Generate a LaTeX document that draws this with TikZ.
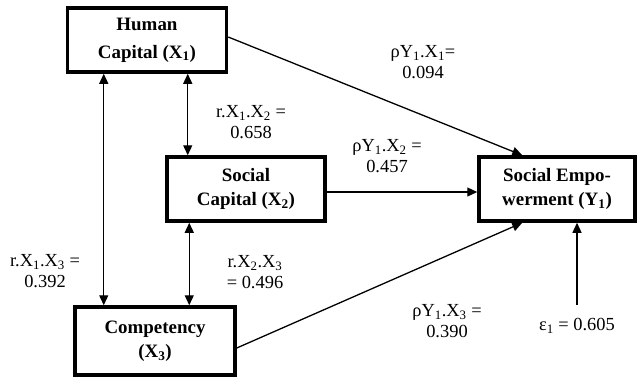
\documentclass[tikz,border=0pt]{standalone}
\usepackage{fontspec}
\setmainfont{Liberation Serif}
\usetikzlibrary{arrows.meta}

\begin{document}
\begin{tikzpicture}[x=1bp, y=-1bp,
    box/.style={draw, line width=3.5bp, minimum width=158bp, minimum height=64bp, inner sep=0pt, align=center, font=\bfseries\fontsize{19}{24}\selectfont},
    lbl/.style={align=center, inner sep=0pt, font=\fontsize{18.5}{20.5}\selectfont},
    link/.style={line width=1.3bp, -{Triangle[length=10bp,width=9bp]}},
    corr/.style={line width=1.3bp, {Triangle[length=10bp,width=9bp]}-{Triangle[length=10bp,width=9bp]}}]
        \useasboundingbox (0,0) rectangle (637,378);
        \coordinate (H) at (147,40);
        \coordinate (S) at (246,189);
        \coordinate (C) at (155,341);
        \coordinate (E) at (557,189);
        \coordinate (err) at (577,305);
        \node[box, minimum width=159bp, font=\bfseries\fontsize{19}{28}\selectfont] (hc) at (H) {Human\\Capital (X\textsubscript{1})};
        \node[box] (sc) at (S) {Social\\Capital (X\textsubscript{2})};
        \node[box, minimum width=160bp, minimum height=68bp] (cp) at (C) {Competency\\(X\textsubscript{3})};
        \node[box, minimum width=156bp] (se) at (E) {Social Empo-\\werment (Y\textsubscript{1})};
        \draw[corr] ([xshift=38bp]hc.south west) -- ([xshift=38bp]hc.south west |- cp.north);
        \draw[corr] ([xshift=122bp]hc.south west) -- ([xshift=122bp]hc.south west |- sc.north);
        \draw[corr] ([xshift=24bp]sc.south west) -- ([xshift=24bp]sc.south west |- cp.north);
        \draw[link] ([yshift=3bp]hc.east) -- ([xshift=45bp]se.north west);
        \draw[link] ([yshift=-3bp]sc.east) -- ([yshift=-3bp]se.west);
        \draw[link] ([yshift=-7bp]cp.east) -- ([xshift=45bp]se.south west);
        \draw[link] (err) -- (err |- se.south);
        \node[lbl] (l1) at (423,62) {ρY\textsubscript{1}.X\textsubscript{1}=\\0.094};
        \node[lbl] (l2) at (251,122) {r.X\textsubscript{1}.X\textsubscript{2} =\\0.658};
        \node[lbl] (l3) at (387,156) {ρY\textsubscript{1}.X\textsubscript{2} =\\0.457};
        \node[lbl] (l4) at (45,271) {r.X\textsubscript{1}.X\textsubscript{3} =\\0.392};
        \node[lbl] (l5) at (255,272) {r.X\textsubscript{2}.X\textsubscript{3}\\= 0.496};
        \node[lbl] (l6) at (447,321) {ρY\textsubscript{1}.X\textsubscript{3} =\\0.390};
        \node[lbl] (l7) at (577,326) {ε\textsubscript{1} = 0.605};
\end{tikzpicture}
\end{document}
